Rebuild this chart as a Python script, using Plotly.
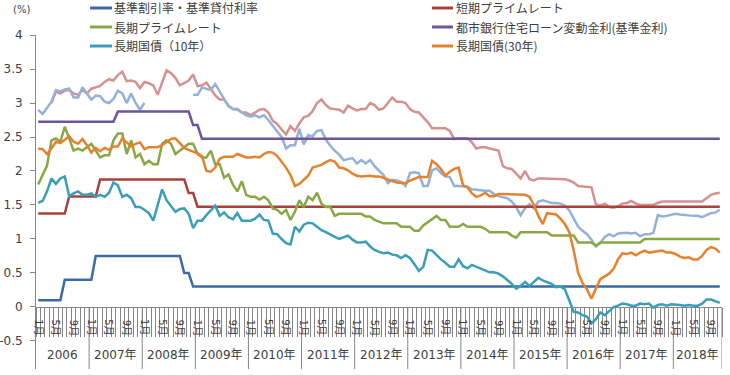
import plotly.graph_objects as go

# ---------------- data ----------------
years = [2006, 2007, 2008, 2009, 2010, 2011, 2012, 2013, 2014, 2015, 2016, 2017, 2018]
year_labels = ["2006", "2007年", "2008年", "2009年", "2010年", "2011年", "2012年",
               "2013年", "2014年", "2015年", "2016年", "2017年", "2018年"]
last_month_2018 = 11
months = []
for y in years:
    for m in range(1, 13):
        if y == 2018 and m > last_month_2018:
            break
        months.append((y, m))
shown_months = [1, 5, 9]

y_ticks = [-0.5, 0, 0.5, 1, 1.5, 2, 2.5, 3, 3.5, 4]
y_tick_text = ["-0.5", "0", "0.5", "1", "1.5", "2", "2.5", "3", "3.5", "4"]

# 基準割引率・基準貸付利率
discount_rate = [
    0.1, 0.1, 0.1, 0.1, 0.1, 0.1, 0.4, 0.4, 0.4, 0.4, 0.4, 0.4,
    0.4, 0.75, 0.75, 0.75, 0.75, 0.75, 0.75, 0.75, 0.75, 0.75, 0.75, 0.75,
    0.75, 0.75, 0.75, 0.75, 0.75, 0.75, 0.75, 0.75, 0.75, 0.5, 0.5, 0.3,
    0.3, 0.3, 0.3, 0.3, 0.3, 0.3, 0.3, 0.3, 0.3, 0.3, 0.3, 0.3,
    0.3, 0.3, 0.3, 0.3, 0.3, 0.3, 0.3, 0.3, 0.3, 0.3, 0.3, 0.3,
    0.3, 0.3, 0.3, 0.3, 0.3, 0.3, 0.3, 0.3, 0.3, 0.3, 0.3, 0.3,
    0.3, 0.3, 0.3, 0.3, 0.3, 0.3, 0.3, 0.3, 0.3, 0.3, 0.3, 0.3,
    0.3, 0.3, 0.3, 0.3, 0.3, 0.3, 0.3, 0.3, 0.3, 0.3, 0.3, 0.3,
    0.3, 0.3, 0.3, 0.3, 0.3, 0.3, 0.3, 0.3, 0.3, 0.3, 0.3, 0.3,
    0.3, 0.3, 0.3, 0.3, 0.3, 0.3, 0.3, 0.3, 0.3, 0.3, 0.3, 0.3,
    0.3, 0.3, 0.3, 0.3, 0.3, 0.3, 0.3, 0.3, 0.3, 0.3, 0.3, 0.3,
    0.3, 0.3, 0.3, 0.3, 0.3, 0.3, 0.3, 0.3, 0.3, 0.3, 0.3, 0.3,
    0.3, 0.3, 0.3, 0.3, 0.3, 0.3, 0.3, 0.3, 0.3, 0.3, 0.3,
]

# 短期プライムレート
short_prime = [
    1.375, 1.375, 1.375, 1.375, 1.375, 1.375, 1.375, 1.625, 1.625, 1.625, 1.625, 1.625,
    1.625, 1.625, 1.875, 1.875, 1.875, 1.875, 1.875, 1.875, 1.875, 1.875, 1.875, 1.875,
    1.875, 1.875, 1.875, 1.875, 1.875, 1.875, 1.875, 1.875, 1.875, 1.875, 1.675, 1.675,
    1.475, 1.475, 1.475, 1.475, 1.475, 1.475, 1.475, 1.475, 1.475, 1.475, 1.475, 1.475,
    1.475, 1.475, 1.475, 1.475, 1.475, 1.475, 1.475, 1.475, 1.475, 1.475, 1.475, 1.475,
    1.475, 1.475, 1.475, 1.475, 1.475, 1.475, 1.475, 1.475, 1.475, 1.475, 1.475, 1.475,
    1.475, 1.475, 1.475, 1.475, 1.475, 1.475, 1.475, 1.475, 1.475, 1.475, 1.475, 1.475,
    1.475, 1.475, 1.475, 1.475, 1.475, 1.475, 1.475, 1.475, 1.475, 1.475, 1.475, 1.475,
    1.475, 1.475, 1.475, 1.475, 1.475, 1.475, 1.475, 1.475, 1.475, 1.475, 1.475, 1.475,
    1.475, 1.475, 1.475, 1.475, 1.475, 1.475, 1.475, 1.475, 1.475, 1.475, 1.475, 1.475,
    1.475, 1.475, 1.475, 1.475, 1.475, 1.475, 1.475, 1.475, 1.475, 1.475, 1.475, 1.475,
    1.475, 1.475, 1.475, 1.475, 1.475, 1.475, 1.475, 1.475, 1.475, 1.475, 1.475, 1.475,
    1.475, 1.475, 1.475, 1.475, 1.475, 1.475, 1.475, 1.475, 1.475, 1.475, 1.475,
]

# 長期プライムレート
long_prime = [
    1.80, 1.95, 2.08, 2.45, 2.48, 2.43, 2.65, 2.48, 2.30, 2.33, 2.30, 2.35,
    2.40, 2.30, 2.20, 2.23, 2.23, 2.45, 2.55, 2.55, 2.25, 2.45, 2.20, 2.25,
    2.10, 2.15, 2.10, 2.10, 2.40, 2.45, 2.40, 2.25, 2.30, 2.35, 2.40, 2.40,
    2.25, 2.20, 2.20, 2.30, 2.10, 2.10, 1.90, 1.95, 1.80, 1.70, 1.85, 1.65,
    1.62, 1.62, 1.58, 1.62, 1.57, 1.45, 1.43, 1.37, 1.43, 1.28, 1.40, 1.57,
    1.47, 1.62, 1.57, 1.68, 1.52, 1.47, 1.47, 1.34, 1.37, 1.37, 1.37, 1.37,
    1.37, 1.37, 1.33, 1.33, 1.28, 1.25, 1.23, 1.23, 1.23, 1.23, 1.18, 1.18,
    1.18, 1.12, 1.12, 1.20, 1.25, 1.30, 1.34, 1.28, 1.28, 1.18, 1.18, 1.18,
    1.22, 1.18, 1.18, 1.18, 1.18, 1.15, 1.10, 1.10, 1.10, 1.10, 1.10, 1.05,
    1.02, 1.10, 1.10, 1.10, 1.10, 1.10, 1.10, 1.10, 1.05, 1.05, 1.05, 1.05,
    1.05, 1.05, 0.95, 0.95, 0.95, 0.95, 0.90, 0.95, 0.95, 0.95, 0.95, 0.95,
    0.95, 0.95, 0.95, 0.95, 0.95, 1.00, 1.00, 1.00, 1.00, 1.00, 1.00, 1.00,
    1.00, 1.00, 1.00, 1.00, 1.00, 1.00, 1.00, 1.00, 1.00, 1.00, 1.00,
]

# 都市銀行住宅ローン変動金利(基準金利)
mortgage_variable = [
    2.725, 2.725, 2.725, 2.725, 2.725, 2.725, 2.725, 2.725, 2.725, 2.725, 2.725, 2.725,
    2.725, 2.725, 2.725, 2.725, 2.725, 2.725, 2.875, 2.875, 2.875, 2.875, 2.875, 2.875,
    2.875, 2.875, 2.875, 2.875, 2.875, 2.875, 2.875, 2.875, 2.875, 2.875, 2.875, 2.675,
    2.675, 2.475, 2.475, 2.475, 2.475, 2.475, 2.475, 2.475, 2.475, 2.475, 2.475, 2.475,
    2.475, 2.475, 2.475, 2.475, 2.475, 2.475, 2.475, 2.475, 2.475, 2.475, 2.475, 2.475,
    2.475, 2.475, 2.475, 2.475, 2.475, 2.475, 2.475, 2.475, 2.475, 2.475, 2.475, 2.475,
    2.475, 2.475, 2.475, 2.475, 2.475, 2.475, 2.475, 2.475, 2.475, 2.475, 2.475, 2.475,
    2.475, 2.475, 2.475, 2.475, 2.475, 2.475, 2.475, 2.475, 2.475, 2.475, 2.475, 2.475,
    2.475, 2.475, 2.475, 2.475, 2.475, 2.475, 2.475, 2.475, 2.475, 2.475, 2.475, 2.475,
    2.475, 2.475, 2.475, 2.475, 2.475, 2.475, 2.475, 2.475, 2.475, 2.475, 2.475, 2.475,
    2.475, 2.475, 2.475, 2.475, 2.475, 2.475, 2.475, 2.475, 2.475, 2.475, 2.475, 2.475,
    2.475, 2.475, 2.475, 2.475, 2.475, 2.475, 2.475, 2.475, 2.475, 2.475, 2.475, 2.475,
    2.475, 2.475, 2.475, 2.475, 2.475, 2.475, 2.475, 2.475, 2.475, 2.475, 2.475,
]

# 長期国債（10年）
jgb10 = [
    1.53, 1.56, 1.70, 1.89, 1.81, 1.89, 1.92, 1.63, 1.67, 1.70, 1.65, 1.65,
    1.67, 1.62, 1.65, 1.62, 1.68, 1.83, 1.79, 1.62, 1.65, 1.60, 1.47, 1.47,
    1.43, 1.38, 1.27, 1.50, 1.73, 1.57, 1.48, 1.40, 1.44, 1.45, 1.37, 1.16,
    1.27, 1.27, 1.35, 1.42, 1.49, 1.34, 1.39, 1.32, 1.29, 1.38, 1.27, 1.27,
    1.27, 1.30, 1.36, 1.28, 1.27, 1.08, 1.07, 1.00, 0.94, 0.92, 1.18, 1.11,
    1.21, 1.24, 1.23, 1.18, 1.13, 1.10, 1.06, 1.03, 1.00, 1.03, 1.05, 0.99,
    0.95, 0.95, 0.96, 0.89, 0.84, 0.81, 0.79, 0.80, 0.77, 0.76, 0.72, 0.76,
    0.72, 0.63, 0.53, 0.59, 0.84, 0.83, 0.76, 0.70, 0.65, 0.59, 0.59, 0.70,
    0.60, 0.57, 0.62, 0.59, 0.57, 0.53, 0.51, 0.51, 0.49, 0.45, 0.40, 0.34,
    0.27, 0.31, 0.37, 0.31, 0.37, 0.43, 0.39, 0.37, 0.34, 0.29, 0.30, 0.26,
    0.10, -0.07, -0.08, -0.12, -0.14, -0.24, -0.18, -0.08, -0.12, -0.06, 0.00, 0.02,
    0.05, 0.04, 0.02, 0.02, 0.05, 0.04, 0.05, -0.01, 0.03, 0.04, 0.02, 0.04,
    0.04, 0.03, 0.02, 0.03, 0.02, 0.02, 0.05, 0.11, 0.11, 0.09, 0.06,
]

# 長期国債(30年)
jgb30 = [
    2.33, 2.32, 2.25, 2.33, 2.43, 2.41, 2.46, 2.51, 2.43, 2.40, 2.47, 2.38,
    2.27, 2.34, 2.29, 2.34, 2.31, 2.36, 2.36, 2.48, 2.42, 2.36, 2.40, 2.42,
    2.32, 2.35, 2.35, 2.35, 2.38, 2.42, 2.47, 2.48, 2.41, 2.34, 2.31, 2.29,
    2.26, 2.22, 2.00, 1.99, 2.05, 2.18, 2.21, 2.21, 2.21, 2.25, 2.23, 2.20,
    2.20, 2.21, 2.20, 2.25, 2.28, 2.27, 2.22, 2.13, 2.05, 1.94, 1.78, 1.81,
    1.87, 1.93, 2.05, 2.07, 2.09, 2.13, 2.16, 2.14, 2.05, 2.04, 2.01, 1.96,
    1.93, 1.92, 1.93, 1.93, 1.92, 1.92, 1.90, 1.87, 1.85, 1.83, 1.82, 1.82,
    1.86, 1.89, 1.91, 1.91, 1.91, 2.15, 2.10, 2.03, 1.93, 1.99, 2.03, 2.05,
    1.79, 1.76, 1.67, 1.62, 1.64, 1.68, 1.63, 1.63, 1.66, 1.66, 1.66, 1.66,
    1.66, 1.65, 1.65, 1.62, 1.50, 1.34, 1.22, 1.38, 1.37, 1.36, 1.30, 1.22,
    1.10, 0.83, 0.50, 0.35, 0.26, 0.12, 0.27, 0.41, 0.45, 0.49, 0.56, 0.70,
    0.79, 0.78, 0.80, 0.76, 0.80, 0.83, 0.80, 0.81, 0.83, 0.83, 0.80, 0.80,
    0.78, 0.74, 0.72, 0.73, 0.70, 0.70, 0.75, 0.84, 0.88, 0.86, 0.80,
]

# 凡例なしの系列（淡赤）
series_light_red = [
    None, None, None, 3.00, 3.17, 3.14, 3.18, 3.19, 3.14, 3.12, 3.19, 3.14,
    3.21, 3.23, 3.25, 3.31, 3.35, 3.33, 3.41, 3.46, 3.32, 3.33, 3.31, 3.22,
    3.31, 3.29, 3.26, 3.12, 3.30, 3.48, 3.44, 3.37, 3.26, 3.29, 3.33, 3.42,
    3.25, 3.26, 3.30, 3.21, 3.11, 3.05, 3.05, 2.96, 2.91, 2.91, 2.86, 2.86,
    2.82, 2.86, 2.90, 2.91, 2.86, 2.74, 2.69, 2.61, 2.54, 2.66, 2.59, 2.70,
    2.79, 2.81, 2.88, 3.00, 3.05, 2.97, 2.92, 2.91, 2.90, 2.86, 2.96, 2.92,
    2.89, 2.91, 2.91, 3.00, 2.97, 2.90, 2.92, 3.00, 3.08, 3.02, 3.02, 3.00,
    2.91, 2.87, 2.86, 2.79, 2.72, 2.63, 2.63, 2.63, 2.63, 2.59, 2.47, 2.48,
    2.48, 2.48, 2.42, 2.33, 2.35, 2.35, 2.33, 2.31, 2.30, 2.07, 2.04, 2.03,
    1.96, 1.89, 2.00, 1.88, 1.86, 1.89, 1.89, 1.89, 1.89, 1.89, 1.89, 1.88,
    1.86, 1.83, 1.78, 1.77, 1.76, 1.76, 1.51, 1.49, 1.52, 1.47, 1.46, 1.48,
    1.52, 1.53, 1.56, 1.52, 1.50, 1.50, 1.51, 1.50, 1.53, 1.55, 1.55, 1.55,
    1.56, 1.56, 1.55, 1.56, 1.56, 1.56, 1.55, 1.60, 1.65, 1.67, 1.68,
]

# 凡例なしの系列（淡青）
series_light_blue = [
    2.90, 2.84, 2.93, 3.02, 3.19, 3.17, 3.20, 3.21, 3.08, 3.08, 3.23, 3.14,
    3.05, 3.11, 3.10, 3.02, 3.00, 3.06, 3.18, 3.14, 3.00, 3.14, 3.00, 2.90,
    3.00, None, None, None, None, None, None, None, None, None, None, 3.12,
    3.12, 3.23, 3.21, 3.19, 3.28, 3.17, 3.05, 2.95, 2.91, 2.90, 2.86, 2.82,
    2.80, 2.82, 2.79, 2.82, 2.75, 2.66, 2.58, 2.50, 2.33, 2.38, 2.38, 2.62,
    2.39, 2.53, 2.51, 2.59, 2.60, 2.46, 2.37, 2.30, 2.24, 2.16, 2.17, 2.19,
    2.11, 2.16, 2.11, 2.16, 2.07, 2.01, 1.94, 1.82, 1.87, 1.86, 1.84, 1.78,
    1.97, 1.98, 1.97, 1.78, 1.78, 2.01, 2.04, 1.97, 1.92, 1.91, 1.78, 1.78,
    1.78, 1.77, 1.73, 1.72, 1.71, 1.71, 1.71, 1.66, 1.63, 1.62, 1.60, 1.55,
    1.47, 1.35, 1.45, 1.51, 1.45, 1.55, 1.57, 1.55, 1.53, 1.53, 1.52, 1.49,
    1.42, 1.30, 1.18, 1.12, 1.07, 0.99, 0.89, 0.94, 1.03, 1.07, 1.04, 1.08,
    1.09, 1.09, 1.08, 1.09, 1.04, 1.07, 1.07, 1.09, 1.35, 1.33, 1.34, 1.35,
    1.37, 1.36, 1.35, 1.34, 1.34, 1.34, 1.32, 1.35, 1.38, 1.39, 1.43,
]

# ---------------- figure ----------------
W, H = 730, 375
M_L, M_R, M_T, M_B = 36, 8, 35, 6
x = list(range(len(months)))
y_bottom = -0.912
y_top = 4.0

axis_gray = "#868686"
text_gray = "#404040"
base_font = "DejaVu Sans, Noto Sans CJK JP, sans-serif"
legend_font = "Noto Sans CJK JP, DejaVu Sans, sans-serif"

fig = go.Figure()

def add_line(values, name, color, show_in_legend):
    fig.add_trace(go.Scatter(
        x=x, y=values, mode="lines", name=name,
        line=dict(color=color, width=2.5),
        connectgaps=False, showlegend=False,
    ))
    return (name, color) if show_in_legend else None

legend_entries = []
add_line(series_light_red, "淡赤", "#D6918F", False)
add_line(series_light_blue, "淡青", "#94B1D8", False)
legend_entries.append(add_line(discount_rate, "基準割引率・基準貸付利率", "#3D6AA8", True))
legend_entries.append(add_line(short_prime, "短期プライムレート", "#A9403C", True))
legend_entries.append(add_line(long_prime, "長期プライムレート", "#88A846", True))
legend_entries.append(add_line(mortgage_variable, "都市銀行住宅ローン変動金利(基準金利)", "#6E5597", True))
legend_entries.append(add_line(jgb10, "長期国債（10年）", "#3A9EB8", True))
legend_entries.append(add_line(jgb30, "長期国債(30年)", "#E4822F", True))

plot_w = W - M_L - M_R
plot_h = H - M_T - M_B

def px_to_paper_x(px):
    return (px - M_L) / plot_w

def px_to_paper_y(py):
    return (H - M_B - py) / plot_h

shapes = []
annotations = []

# year separators (category group dividers)
year_starts = [i for i, (yy, mm) in enumerate(months) if mm == 1]
for s in year_starts[1:] + [len(months)]:
    shapes.append(dict(type="line", xref="x", yref="y", x0=s - 0.5, x1=s - 0.5,
                       y0=0, y1=y_bottom, line=dict(color=axis_gray, width=1)))

# month and year category labels
for i, (yy, mm) in enumerate(months):
    if mm in shown_months:
        annotations.append(dict(x=i, y=-0.30, xref="x", yref="y", text=f"{mm}月",
                                textangle=90, showarrow=False, xanchor="center", yanchor="middle",
                                font=dict(size=10, color=text_gray, family=base_font)))
for yy, lab in zip(years, year_labels):
    idxs = [i for i, (a, b) in enumerate(months) if a == yy]
    annotations.append(dict(x=(idxs[0] + idxs[-1]) / 2, y=-0.70, xref="x", yref="y", text=lab,
                            showarrow=False, xanchor="center", yanchor="middle",
                            font=dict(size=12, color=text_gray, family=base_font)))

# unit label
annotations.append(dict(x=px_to_paper_x(21), y=px_to_paper_y(10), xref="paper", yref="paper",
                        text="(%)", showarrow=False, xanchor="center", yanchor="middle",
                        font=dict(size=10, color=text_gray, family=base_font)))

# legend (two columns, three rows)
legend_cols = [(90, 112, 112), (432, 453, 454)]
legend_rows = [8, 27, 46]
for k, entry in enumerate(legend_entries):
    name, color = entry
    col = legend_cols[k % 2]
    row_y = legend_rows[k // 2]
    yp = px_to_paper_y(row_y)
    shapes.append(dict(type="line", xref="paper", yref="paper",
                       x0=px_to_paper_x(col[0]), x1=px_to_paper_x(col[1]), y0=yp, y1=yp,
                       line=dict(color=color, width=3)))
    annotations.append(dict(x=px_to_paper_x(col[2]), y=yp, xref="paper", yref="paper",
                            text=name, showarrow=False, xanchor="left", yanchor="middle",
                            font=dict(size=12, color=text_gray, family=legend_font)))

fig.update_layout(
    width=W, height=H,
    margin=dict(l=M_L, r=M_R, t=M_T, b=M_B, autoexpand=False),
    plot_bgcolor="white", paper_bgcolor="white",
    showlegend=False,
    font=dict(family=base_font, color=text_gray, size=12),
    xaxis=dict(range=[-0.5, len(months) - 0.5], anchor="free",
               position=(0 - y_bottom) / (y_top - y_bottom),
               showline=True, linecolor=axis_gray, linewidth=1,
               ticks="outside", ticklen=29, tickcolor=axis_gray, tickwidth=1,
               tickvals=[i - 0.5 for i in range(len(months) + 1)],
               showticklabels=False, showgrid=False, zeroline=False,
               layer="below traces"),
    yaxis=dict(range=[y_bottom, y_top], tickvals=y_ticks, ticktext=y_tick_text,
               ticks="outside", ticklen=5, tickcolor=axis_gray,
               showline=True, linecolor=axis_gray, linewidth=1,
               showgrid=False, zeroline=False, ticklabelstandoff=5,
               tickfont=dict(size=12, color=text_gray, family=base_font)),
    shapes=shapes,
    annotations=annotations,
)

fig.write_html(
    "out.html",
    config={"displayModeBar": False},
    post_script="document.body.style.margin='0px';document.body.style.padding='0px';"
                "document.documentElement.style.overflow='hidden';",
)
